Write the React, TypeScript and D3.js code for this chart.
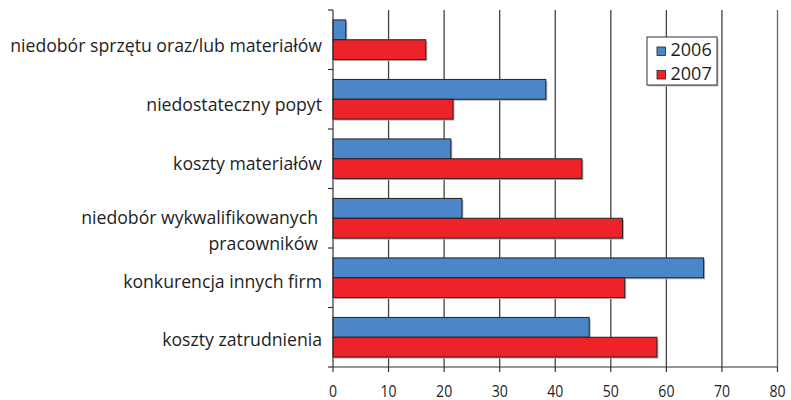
import React from "react";
import * as d3 from "d3";

const categories = [
  ["niedobór sprzętu oraz/lub materiałów"],
  ["niedostateczny popyt"],
  ["koszty materiałów"],
  ["niedobór wykwalifikowanych", "pracowników"],
  ["konkurencja innych firm"],
  ["koszty zatrudnienia"],
];
const series = ["2006", "2007"];
const values2006 = [2.3, 38.3, 21.2, 23.2, 66.7, 46.1];
const values2007 = [16.7, 21.6, 44.8, 52.1, 52.5, 58.3];
const xTicks = [0, 10, 20, 30, 40, 50, 60, 70, 80];
const colors = ["#4a86c8", "#ee2229"];

const W = 791, H = 400;
const left = 333, right = 777.5, top = 10, bottom = 367;
const font = "'Open Sans', 'Noto Sans', sans-serif";
const txt = "#1e1e1e";

export default function App() {
  const x = d3.scaleLinear().domain([0, 80]).range([left, right]);
  const keys = categories.map((c, i) => String(i));
  const y = d3.scaleBand().domain(keys).range([top, bottom]).padding(0);
  const inner = d3.scaleBand().domain(series).range([0, y.bandwidth()]).paddingInner(0).paddingOuter(0.5);
  const labelY = d3.scalePoint().domain(keys).range([52.5, 346.5]);
  const data = [values2006, values2007];
  return (
    <svg width={W} height={H} style={{ position: "absolute", left: 0, top: 0, background: "#fff" }} fontFamily={font}>
      {/* grid */}
      {xTicks.slice(1).map((t) => (
        <line key={"g" + t} x1={x(t)} x2={x(t)} y1={top} y2={bottom} stroke={t === 80 ? "#666" : "#444"} strokeWidth={1.3} />
      ))}
      {/* bars */}
      {keys.map((k, i) =>
        series.map((s, j) => {
          const v = data[j][i];
          const by = (y(k) as number) + (inner(s) as number);
          const bw = x(v) - x(0);
          const bh = inner.bandwidth();
          return (
            <g key={k + s}>
              <rect x={x(0) + 1.5} y={by + 1.5} width={bw} height={bh} fill="#b0b0b0" />
              <rect x={x(0)} y={by} width={bw} height={bh} fill={colors[j]} stroke="#222" strokeWidth={1} />
            </g>
          );
        })
      )}
      {/* left axis */}
      <line x1={left} x2={left} y1={top} y2={bottom} stroke="#333" strokeWidth={1.2} />
      {keys.concat(["end"]).map((k, i) => {
        const yy = i < keys.length ? (y(k) as number) : bottom;
        return <line key={"lt" + i} x1={left - 5} x2={left} y1={yy} y2={yy} stroke="#333" strokeWidth={1.2} />;
      })}
      {/* bottom axis */}
      <line x1={left} x2={right} y1={bottom} y2={bottom} stroke="#333" strokeWidth={1.2} />
      {xTicks.map((t) => (
        <g key={"xt" + t}>
          <line x1={x(t)} x2={x(t)} y1={bottom} y2={bottom + 5} stroke="#333" strokeWidth={1.2} />
          <text transform={`translate(${x(t)},396.5) scale(0.88,1)`} textAnchor="middle" fontSize={16} fill={txt}>{t}</text>
        </g>
      ))}
      {/* category labels */}
      {categories.map((lines, i) => {
        const cy = labelY(String(i)) as number;
        const ax = lines.length > 1 ? 318 : 322;
        const startY = lines.length > 1 ? cy - 5 : cy;
        return (
          <text key={"c" + i} transform={`translate(${ax},0) scale(0.93,1)`} textAnchor="end" fontSize={19} fill={txt}>
            {lines.map((l, li) => (
              <tspan key={li} x={0} y={startY + li * 26}>{l}</tspan>
            ))}
          </text>
        );
      })}
      {/* legend */}
      <rect x={648.5} y={38.5} width={70} height={48} fill="#bbb" />
      <rect x={647} y={37} width={70} height={48} fill="#fff" stroke="#333" strokeWidth={1} />
      {series.map((s, j) => (
        <g key={"l" + s}>
          <rect x={657} y={47 + j * 23.5} width={8.5} height={8.5} fill={colors[j]} stroke="#222" strokeWidth={0.8} />
          <text x={670.5} y={55.7 + j * 24.3} fontSize={18} fill={txt}>{s}</text>
        </g>
      ))}
    </svg>
  );
}
